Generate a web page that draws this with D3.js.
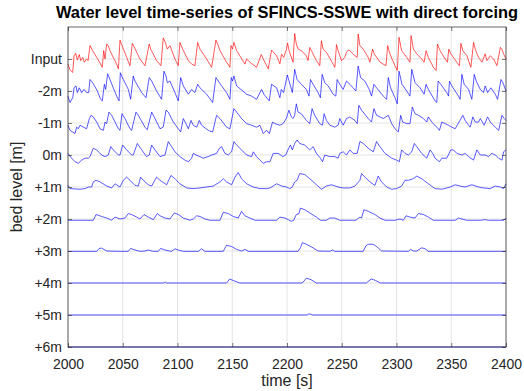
<!DOCTYPE html>
<html>
<head>
<meta charset="utf-8">
<script src="https://cdn.jsdelivr.net/npm/d3@7"></script>
<style>
  html, body { margin: 0; padding: 0; background: #fff; }
  svg { display: block; font-family: "Liberation Sans", Arial, Helvetica, sans-serif; }
</style>
</head>
<body>
<div id="chart-container"></div>
<script>
// water level series, [time (s), water level (m)]; offsets come from rowOffsets
const inputWL = [[2000,-0.16],[2001.8,-0.34],[2004.3,-0.42],[2005.5,0.10],[2007,0.18],[2008.5,-0.03],[2010.3,0.14],[2011.6,-0.05],[2013.4,0.05],[2014.9,-0.10],[2017,0.00],[2018.3,-0.05],[2020.1,0.42],[2022.5,0.26],[2026.2,0.05],[2029.8,-0.16],[2031.3,-0.26],[2032.6,0.26],[2033.8,0.00],[2035.3,0.47],[2036.8,0.42],[2038.3,0.26],[2044.4,-0.16],[2046,-0.31],[2047.5,0.59],[2049.3,0.42],[2053.6,0.05],[2056.6,-0.21],[2058.7,0.49],[2060.3,0.39],[2065.7,0.00],[2070.3,-0.21],[2074.2,0.47],[2075.5,0.31],[2080.9,-0.05],[2084.9,-0.21],[2087,0.66],[2088.9,0.52],[2090.7,0.31],[2093.1,0.42],[2097.7,0.00],[2100.7,-0.21],[2102.2,0.52],[2104.7,0.31],[2109.9,-0.05],[2112.9,-0.16],[2115.9,-0.21],[2118.4,0.52],[2120.5,0.31],[2126.6,0.00],[2131.2,-0.26],[2135.1,0.59],[2137.2,0.42],[2138.8,0.26],[2144.8,-0.10],[2147.9,-0.26],[2148.8,0.42],[2150.3,0.31],[2151.5,0.52],[2154,0.26],[2161.6,-0.16],[2163.1,0.00],[2166.1,-0.10],[2172.2,-0.26],[2176.5,0.14],[2178.3,0.00],[2182.9,-0.31],[2185.9,0.28],[2190.5,0.10],[2193.5,-0.15],[2195,0.15],[2197,0.05],[2199.5,0.30],[2200.5,0.50],[2202,0.25],[2205.5,-0.10],[2207,0.80],[2208.5,0.47],[2210.1,0.31],[2213.1,0.26],[2217.7,0.10],[2219.2,-0.05],[2220.8,0.36],[2222.3,0.26],[2226.9,-0.05],[2229.9,-0.21],[2231.4,0.57],[2233,0.31],[2236,0.21],[2242.1,-0.16],[2243.7,-0.26],[2245.2,0.45],[2246.7,0.26],[2249.8,-0.05],[2252.8,0.05],[2254.3,0.21],[2255.9,0.28],[2257.4,0.26],[2262,0.10],[2264.1,0.05],[2265,0.78],[2266.6,0.42],[2269.6,0.31],[2274.2,0.05],[2275.7,-0.10],[2278.2,0.31],[2279.7,0.16],[2284.9,-0.10],[2290.4,-0.21],[2291.9,0.42],[2294,0.16],[2298.6,-0.21],[2300.7,-0.36],[2302.3,0.68],[2304.7,0.26],[2309.3,0.05],[2312.3,-0.10],[2313.3,0.73],[2315.4,0.31],[2318.5,0.16],[2323,0.00],[2325.2,-0.10],[2327,0.26],[2329.1,0.05],[2333.7,-0.26],[2336.2,-0.36],[2337.4,0.47],[2339.8,0.26],[2344.4,0.00],[2346.5,-0.10],[2347.8,0.31],[2349.6,0.16],[2355.1,-0.10],[2357.5,-0.21],[2358.8,0.49],[2360.6,0.26],[2364.3,0.10],[2367.9,-0.26],[2370.4,0.52],[2371.9,0.31],[2374.9,0.05],[2378,-0.10],[2381,0.16],[2382.6,-0.05],[2385.6,0.10],[2388.7,0.00],[2391.7,-0.21],[2394.8,0.36],[2396.3,0.31],[2397.8,0.16],[2400,0.00]];

const wlMinus2 = [[2000,-0.16],[2001.8,-0.36],[2004.3,-0.21],[2005.5,0.10],[2007.3,0.16],[2008.5,-0.05],[2010.3,0.10],[2012.5,-0.05],[2014.6,0.05],[2017,-0.05],[2018.9,-0.05],[2020.1,0.36],[2022.5,0.26],[2026.8,0.00],[2029.8,-0.26],[2031.3,-0.31],[2033.2,0.21],[2034.4,0.05],[2036.2,0.54],[2038.3,0.36],[2044.4,-0.16],[2046.6,-0.31],[2047.8,0.57],[2050.5,0.36],[2055.1,0.05],[2057.2,-0.26],[2059.6,0.47],[2061.2,0.31],[2067.3,-0.05],[2071.2,-0.21],[2074.2,0.42],[2076.4,0.31],[2080.9,0.00],[2085.5,-0.26],[2087.6,0.62],[2089.5,0.47],[2090.7,0.26],[2093.1,0.31],[2097.7,-0.05],[2100.7,-0.31],[2102.9,0.42],[2105.3,0.16],[2109.9,-0.10],[2112.9,0.05],[2115.9,-0.05],[2118.4,0.21],[2120.5,0.10],[2126.6,-0.10],[2132.1,-0.36],[2135.1,0.42],[2138.2,0.26],[2144.8,-0.05],[2147.9,-0.26],[2149.1,0.42],[2150.3,0.31],[2151.5,0.47],[2154,0.16],[2163.1,-0.10],[2167.7,-0.16],[2172.2,-0.26],[2176.8,0.05],[2178.9,-0.10],[2183.8,-0.31],[2185.9,0.21],[2190.5,0.10],[2193.5,-0.21],[2194.8,0.05],[2196.9,-0.05],[2200.3,0.50],[2202.4,0.25],[2204.9,-0.05],[2207,0.68],[2209.2,0.36],[2213.1,0.21],[2217.7,0.05],[2220.1,-0.16],[2221.4,0.36],[2223.8,0.21],[2228.4,-0.05],[2230.5,-0.21],[2232.1,0.52],[2234.5,0.26],[2237.6,0.16],[2242.1,-0.10],[2244.6,-0.16],[2245.8,0.36],[2248.2,0.21],[2251.3,0.05],[2254.3,0.31],[2257.4,0.21],[2262.9,0.00],[2265,0.78],[2267.2,0.42],[2271.1,0.31],[2275.1,0.05],[2277.2,-0.16],[2279.4,0.21],[2281.8,0.10],[2287.9,-0.16],[2291,-0.26],[2292.5,0.42],[2294.6,0.10],[2298.6,-0.21],[2300.7,-0.40],[2302.3,0.62],[2305,0.21],[2309.3,0.00],[2312.3,-0.16],[2313.9,0.68],[2316.9,0.26],[2321.5,0.10],[2325.2,-0.10],[2327,0.21],[2329.1,0.05],[2335.2,-0.31],[2336.8,-0.36],[2338,0.31],[2340.4,0.21],[2345.9,-0.05],[2347.5,-0.16],[2348.4,0.31],[2350.5,0.16],[2356.6,-0.16],[2358.1,-0.26],[2359.7,0.52],[2361.8,0.21],[2365.8,0.05],[2368.8,-0.26],[2371,0.52],[2372.8,0.31],[2376.5,0.05],[2379.5,-0.05],[2381,0.16],[2383.2,-0.05],[2386.2,0.10],[2390.2,-0.10],[2392.3,-0.26],[2395.4,0.36],[2397.2,0.26],[2400,0.00]];

const wlMinus1 = [[2000,-0.07],[2001.8,-0.23],[2006.4,-0.33],[2007.9,-0.13],[2009.4,-0.18],[2011,-0.07],[2014,-0.13],[2017,-0.18],[2019.5,0.14],[2021,0.24],[2023.1,0.19],[2026.2,0.03],[2029.2,-0.18],[2032.3,-0.23],[2033.8,0.03],[2035.3,-0.02],[2037.4,0.34],[2039.9,0.24],[2046,-0.18],[2047.5,-0.23],[2049.3,0.29],[2052,0.14],[2056.6,-0.18],[2058.1,-0.23],[2062.1,0.34],[2064.2,0.24],[2070.3,-0.13],[2072.4,-0.21],[2076.4,0.34],[2079.4,0.14],[2084,-0.18],[2087,-0.13],[2089.5,0.40],[2091.6,0.34],[2096.2,0.03],[2100.7,-0.18],[2102.9,-0.28],[2105.3,0.14],[2107.7,-0.02],[2109.9,-0.18],[2112.3,0.08],[2114.4,-0.07],[2117.5,-0.13],[2119.9,0.08],[2122,-0.07],[2128.1,-0.23],[2132.1,-0.28],[2135.7,0.24],[2138.8,0.14],[2144.8,-0.13],[2147.9,-0.18],[2151.5,0.45],[2154,0.34],[2158.5,0.14],[2163.1,-0.02],[2167.7,-0.07],[2172.2,-0.13],[2175.3,-0.07],[2178.3,-0.33],[2181.4,-0.23],[2183.8,-0.33],[2186.8,0.03],[2189,-0.02],[2193.5,-0.07],[2196.5,-0.02],[2199.5,0.15],[2201.7,0.40],[2204,0.19],[2205.5,0.14],[2207,0.24],[2208.5,0.60],[2210.1,0.34],[2213.1,0.29],[2217.7,0.08],[2220.8,-0.02],[2222.9,0.45],[2225.3,0.24],[2229.9,-0.02],[2232.4,-0.07],[2233.9,0.29],[2236,0.08],[2239.1,-0.07],[2243.7,-0.13],[2246.7,-0.07],[2248.2,0.14],[2251.3,-0.07],[2254.3,0.14],[2257.4,0.19],[2262,0.08],[2264.1,-0.02],[2265.6,0.55],[2268.1,0.40],[2274.2,0.14],[2277.2,0.03],[2279.4,0.45],[2281.8,0.24],[2287.9,0.14],[2292.5,0.24],[2295.6,-0.02],[2298.6,-0.18],[2301.7,-0.28],[2303.8,0.24],[2305.6,0.03],[2309.3,-0.02],[2312.3,-0.02],[2314.5,0.50],[2316.9,0.29],[2320,0.24],[2324.6,0.14],[2327.6,0.03],[2329.1,0.19],[2332.2,0.03],[2336.8,-0.13],[2339.2,-0.23],[2341.4,0.03],[2344.4,-0.02],[2347.5,-0.07],[2350.5,-0.13],[2353.6,-0.18],[2360.6,0.24],[2362.7,0.08],[2365.8,-0.07],[2367.3,-0.13],[2369.7,0.19],[2371.9,0.03],[2374.9,0.03],[2376.5,0.14],[2380.1,-0.07],[2383.2,0.19],[2385.6,0.03],[2390.2,-0.13],[2393.3,-0.23],[2396.3,0.24],[2398.4,0.14],[2400,0.08]];

const wl0 = [[2000,0.05],[2003.3,-0.10],[2006.4,-0.21],[2009.4,-0.26],[2012.5,-0.16],[2015.5,-0.10],[2018.6,-0.10],[2020.1,-0.05],[2023.1,0.21],[2026.2,0.16],[2030.7,0.00],[2033.8,-0.05],[2036.8,0.00],[2039,0.26],[2041.4,0.16],[2046,0.00],[2047.5,0.00],[2049.9,0.31],[2053.6,0.16],[2058.1,0.00],[2059.6,0.00],[2063.3,0.36],[2067.3,0.16],[2071.8,-0.05],[2074.2,0.00],[2076.4,0.31],[2079.4,0.16],[2084,-0.05],[2088.6,0.00],[2091.6,0.42],[2094.6,0.26],[2097.7,0.10],[2102.2,-0.05],[2106.8,-0.16],[2109.9,-0.21],[2112.9,-0.10],[2114.4,0.05],[2116.9,0.00],[2120.5,-0.05],[2123.5,-0.10],[2128.1,-0.05],[2131.2,0.00],[2135.7,0.05],[2138.2,0.21],[2140.3,0.26],[2143.3,0.05],[2146.4,0.00],[2149.4,0.10],[2151.5,0.42],[2154,0.31],[2158.5,0.16],[2163.1,0.00],[2167.7,-0.05],[2169.2,0.10],[2172.2,-0.05],[2175.3,-0.16],[2178.3,-0.26],[2181.4,-0.21],[2184.4,-0.21],[2187.4,0.05],[2192,0.05],[2196.3,-0.05],[2198.8,0.00],[2200.9,0.16],[2203.1,0.31],[2204.9,0.16],[2207,0.36],[2209.2,0.47],[2211.6,0.36],[2216.2,0.31],[2220.8,0.16],[2223.8,0.26],[2226.9,0.05],[2230.5,-0.10],[2232.4,-0.21],[2234.5,0.00],[2239.1,-0.05],[2243.7,-0.05],[2246.7,-0.10],[2248.2,0.05],[2251.3,0.10],[2254.3,0.00],[2257.4,0.16],[2260.4,0.05],[2264.1,0.05],[2266.6,0.42],[2269.6,0.36],[2274.2,0.21],[2278.8,0.10],[2281.8,0.42],[2284.9,0.26],[2289.5,0.05],[2295.6,-0.10],[2300.1,-0.16],[2302.6,-0.21],[2304.7,0.16],[2307.8,0.05],[2310.8,0.00],[2313.9,0.10],[2316.3,0.36],[2318.5,0.26],[2323,0.05],[2327.6,-0.10],[2330.7,0.16],[2333.1,0.05],[2335.2,-0.10],[2339.2,-0.21],[2341.4,-0.10],[2345.9,-0.10],[2349.6,0.16],[2352,0.16],[2355.1,0.05],[2359.7,0.00],[2362.7,0.05],[2365.8,-0.05],[2370.4,-0.16],[2373.4,0.16],[2376.5,0.00],[2381,0.00],[2384.1,-0.05],[2387.1,0.05],[2390.2,0.00],[2393.3,-0.10],[2396.3,-0.16],[2397.8,0.10],[2400,0.16]];

const wlPlus1 = [[2000,0.05],[2001.8,-0.05],[2011,-0.07],[2015.5,-0.05],[2018.6,0.00],[2021.6,0.00],[2023.1,0.16],[2025.6,0.21],[2029.2,0.16],[2035.3,0.03],[2039.9,-0.03],[2042.9,0.10],[2047.5,0.00],[2050.5,0.21],[2053.6,0.31],[2056.6,0.21],[2061.2,0.05],[2064.2,0.03],[2066.3,0.31],[2068.8,0.21],[2073.3,0.07],[2076.4,0.03],[2080.9,0.31],[2084,0.21],[2090.1,0.07],[2094,0.36],[2097.7,0.26],[2102.2,0.10],[2108.3,-0.03],[2114.4,-0.05],[2120.5,-0.03],[2126.6,0.00],[2132.7,0.03],[2138.8,0.16],[2141.8,0.26],[2144.8,0.16],[2149.4,0.07],[2152.5,0.31],[2155.5,0.45],[2158.5,0.26],[2163.1,0.10],[2169.2,0.00],[2175.3,-0.05],[2181.4,-0.05],[2184.4,-0.03],[2187.4,0.03],[2190.5,0.10],[2195.1,0.03],[2199.4,0.00],[2202.4,-0.05],[2204.9,0.00],[2207,0.16],[2209.2,0.21],[2211.6,0.42],[2216.2,0.39],[2220.8,0.26],[2226.9,0.07],[2231.4,-0.07],[2236,0.03],[2240.6,0.07],[2246.7,0.00],[2251.3,-0.03],[2257.4,-0.03],[2262,0.03],[2266.6,0.21],[2268.1,0.42],[2271.1,0.31],[2275.7,0.16],[2280.3,0.05],[2283.3,0.34],[2286.4,0.16],[2291,0.00],[2295.6,-0.07],[2300.1,-0.05],[2304.7,0.03],[2307.8,0.21],[2310.8,0.21],[2315.4,0.26],[2318.5,0.34],[2323,0.26],[2329.1,0.10],[2335.2,-0.05],[2341.4,-0.07],[2345.9,-0.03],[2349,0.00],[2353.6,0.07],[2358.1,0.03],[2362.7,0.00],[2368.8,0.07],[2374.9,0.00],[2379.5,-0.03],[2385.6,-0.05],[2390.2,0.03],[2394.8,0.00],[2397.8,-0.05],[2400,0.10]];

const wlPlus2 = [[2000,-0.04],[2023.1,-0.04],[2025.6,0.14],[2030.7,0.08],[2035.3,0.03],[2039.9,-0.04],[2042.9,0.06],[2047.5,0.00],[2052,0.03],[2055.1,0.17],[2058.1,0.14],[2062.7,0.06],[2065.7,0.00],[2069.4,0.14],[2073.3,0.06],[2077.9,-0.02],[2081.6,0.17],[2084,0.10],[2088.6,0.03],[2093.1,0.00],[2097.1,0.19],[2100.7,0.14],[2105.3,0.03],[2111.4,-0.04],[2114.4,0.00],[2117.5,0.10],[2120.5,0.08],[2125.1,0.00],[2129.6,-0.04],[2138.8,-0.04],[2141.8,0.21],[2146.4,0.17],[2150.9,0.08],[2155.5,0.03],[2158.5,0.24],[2161.6,0.10],[2166.1,0.03],[2170.7,-0.04],[2190.5,-0.04],[2193.5,0.06],[2198.1,0.03],[2201,-0.02],[2204,-0.07],[2206.1,-0.04],[2208.5,0.14],[2211,0.17],[2212.2,0.34],[2216.2,0.29],[2220.8,0.19],[2226.9,0.06],[2230.5,-0.04],[2236,-0.04],[2239.1,0.03],[2243.7,0.03],[2248.2,-0.04],[2262.9,-0.04],[2266.6,0.06],[2268.1,0.03],[2270.2,0.29],[2274.2,0.24],[2280.3,0.14],[2284.9,0.03],[2289.5,-0.04],[2298.6,-0.04],[2303.2,0.00],[2306.2,-0.04],[2308.7,0.10],[2312.3,0.06],[2316.9,0.03],[2320,0.17],[2324.6,0.14],[2329.1,0.06],[2333.7,-0.04],[2353.6,-0.04],[2356.6,0.03],[2359.7,0.00],[2364.3,-0.04],[2376.5,-0.04],[2381,-0.02],[2384.1,-0.04],[2397.8,-0.04],[2400,0.03]];

const wlPlus3 = [[2000,-0.01],[2026.2,-0.01],[2028.6,0.08],[2030.7,0.09],[2035.3,0.00],[2047.5,-0.01],[2055.1,-0.01],[2057.2,0.08],[2061.2,0.03],[2065.7,-0.01],[2070.3,0.00],[2073.3,0.03],[2077.9,-0.01],[2082.5,-0.01],[2084.6,0.08],[2088.6,0.03],[2094.6,-0.01],[2097.7,0.07],[2100.7,0.03],[2105.3,-0.01],[2119,-0.01],[2122,0.07],[2125.1,-0.01],[2141.8,-0.01],[2144.8,0.18],[2149.4,0.14],[2154,0.05],[2158.5,0.00],[2161.6,0.05],[2164.6,-0.01],[2210.1,-0.01],[2212.2,0.10],[2214,0.26],[2217.7,0.21],[2223.8,0.10],[2228.4,0.00],[2239.1,-0.01],[2241.5,0.03],[2243.7,-0.01],[2269.6,-0.01],[2272,0.16],[2274.2,0.21],[2278.8,0.21],[2281.8,0.14],[2286.4,0.00],[2310.8,-0.01],[2313,0.05],[2315.4,0.00],[2318.5,0.00],[2323,0.10],[2326.1,0.07],[2329.1,-0.01],[2400,-0.01]];

const wlPlus4 = [[2000,0],[2087.6,0],[2088.8,0.03],[2090,0],[2144.7,0],[2147.7,0.125],[2150.8,0.08],[2156.9,0],[2214,0],[2217.7,0.15],[2222.2,0.10],[2226.8,0],[2272.4,0],[2276.9,0.125],[2280.9,0.08],[2285.2,0],[2400,0]];

const wlPlus5 = [[2000,0],[2218.5,0],[2219.5,0.03],[2221.5,0.03],[2223,0],[2400,0]];

const wlPlus6 = [[2000,0],[2400,0]];

const rowLabels = ["Input", "-2m", "-1m", "0m", "+1m", "+2m", "+3m", "+4m", "+5m", "+6m"];
const rowOffsets = [-3, -2, -1, 0, 1, 2, 3, 4, 5, 6];
const xTicks = [2000, 2050, 2100, 2150, 2200, 2250, 2300, 2350, 2400];

const seriesList = [inputWL, wlMinus2, wlMinus1, wl0, wlPlus1, wlPlus2, wlPlus3, wlPlus4, wlPlus5, wlPlus6];

const width = 524, height = 391, margin = {top: 27, right: 18, bottom: 44, left: 68};
const innerWidth = width - margin.left - margin.right;
const innerHeight = height - margin.top - margin.bottom;

const svg = d3.select("#chart-container")
  .append("svg")
  .attr("width", width)
  .attr("height", height);

const g = svg.append("g").attr("transform", `translate(${margin.left},${margin.top})`);

const x = d3.scaleLinear().domain([2000, 2400]).range([0, innerWidth]);
// y reversed: Input on top, +6m at the bottom
const y = d3.scaleLinear().domain([-4, 6]).range([0, innerHeight]);

// grid
g.append("g").selectAll("line")
  .data(xTicks)
  .join("line")
    .attr("x1", d => x(d)).attr("x2", d => x(d))
    .attr("y1", 0).attr("y2", innerHeight)
    .attr("stroke", "#e3e3e3").attr("stroke-width", 1);

g.append("g").selectAll("line")
  .data(rowOffsets)
  .join("line")
    .attr("x1", 0).attr("x2", innerWidth)
    .attr("y1", d => y(d)).attr("y2", d => y(d))
    .attr("stroke", "#e3e3e3").attr("stroke-width", 1);

// lines
const line = d3.line()
  .x(d => x(d[0]))
  .y(d => d[1]);

g.append("g").selectAll("path")
  .data(seriesList.map((s, i) => ({i, pts: s.map(p => [p[0], y(rowOffsets[i] - p[1])])})))
  .join("path")
    .attr("fill", "none")
    .attr("stroke", d => d.i === 0 ? "#ff0000" : "#0000ff")
    .attr("stroke-width", 0.65)
    .attr("stroke-linejoin", "round")
    .attr("d", d => line(d.pts));

// axes (ticks inside, box on)
const axisColor = "#262626";
const xAxis = d3.axisBottom(x).tickValues(xTicks).tickSize(-4).tickPadding(12).tickFormat(d3.format("d"));
const yAxis = d3.axisLeft(y).tickValues(rowOffsets).tickSize(-4).tickPadding(6).tickFormat((d, i) => rowLabels[i]);

g.append("g").attr("transform", `translate(0,${innerHeight})`).call(xAxis);
g.append("g").call(yAxis);

// ticks on the top and right sides, no labels
const gTop = g.append("g").call(d3.axisTop(x).tickValues(xTicks).tickSize(-4));
const gRight = g.append("g").attr("transform", `translate(${innerWidth},0)`)
  .call(d3.axisRight(y).tickValues(rowOffsets).tickSize(-4));
gTop.selectAll("text").remove();
gRight.selectAll("text").remove();

g.selectAll(".domain").remove();
g.selectAll(".tick line").attr("stroke", axisColor).attr("stroke-width", 0.6);
g.selectAll(".tick text")
  .attr("fill", axisColor)
  .style("font-size", "14px")
  .style("font-family", "'Liberation Sans', Arial, sans-serif");

g.append("rect")
  .attr("x", 0).attr("y", 0)
  .attr("width", innerWidth).attr("height", innerHeight)
  .attr("fill", "none")
  .attr("stroke", axisColor)
  .attr("stroke-width", 0.7);

// title & labels
svg.append("text")
  .attr("x", margin.left + innerWidth / 2)
  .attr("y", 18)
  .attr("text-anchor", "middle")
  .style("font-size", "16.4px")
  .style("font-weight", "bold")
  .attr("fill", "#000")
  .text("Water level time-series of SFINCS-SSWE with direct forcing");

svg.append("text")
  .attr("x", margin.left + innerWidth / 2)
  .attr("y", 386)
  .attr("text-anchor", "middle")
  .style("font-size", "16px")
  .attr("fill", axisColor)
  .text("time [s]");

svg.append("text")
  .attr("transform", `translate(22,${margin.top + innerHeight / 2}) rotate(-90)`)
  .attr("text-anchor", "middle")
  .style("font-size", "16px")
  .attr("fill", axisColor)
  .text("bed level [m]");
</script>
</body>
</html>
